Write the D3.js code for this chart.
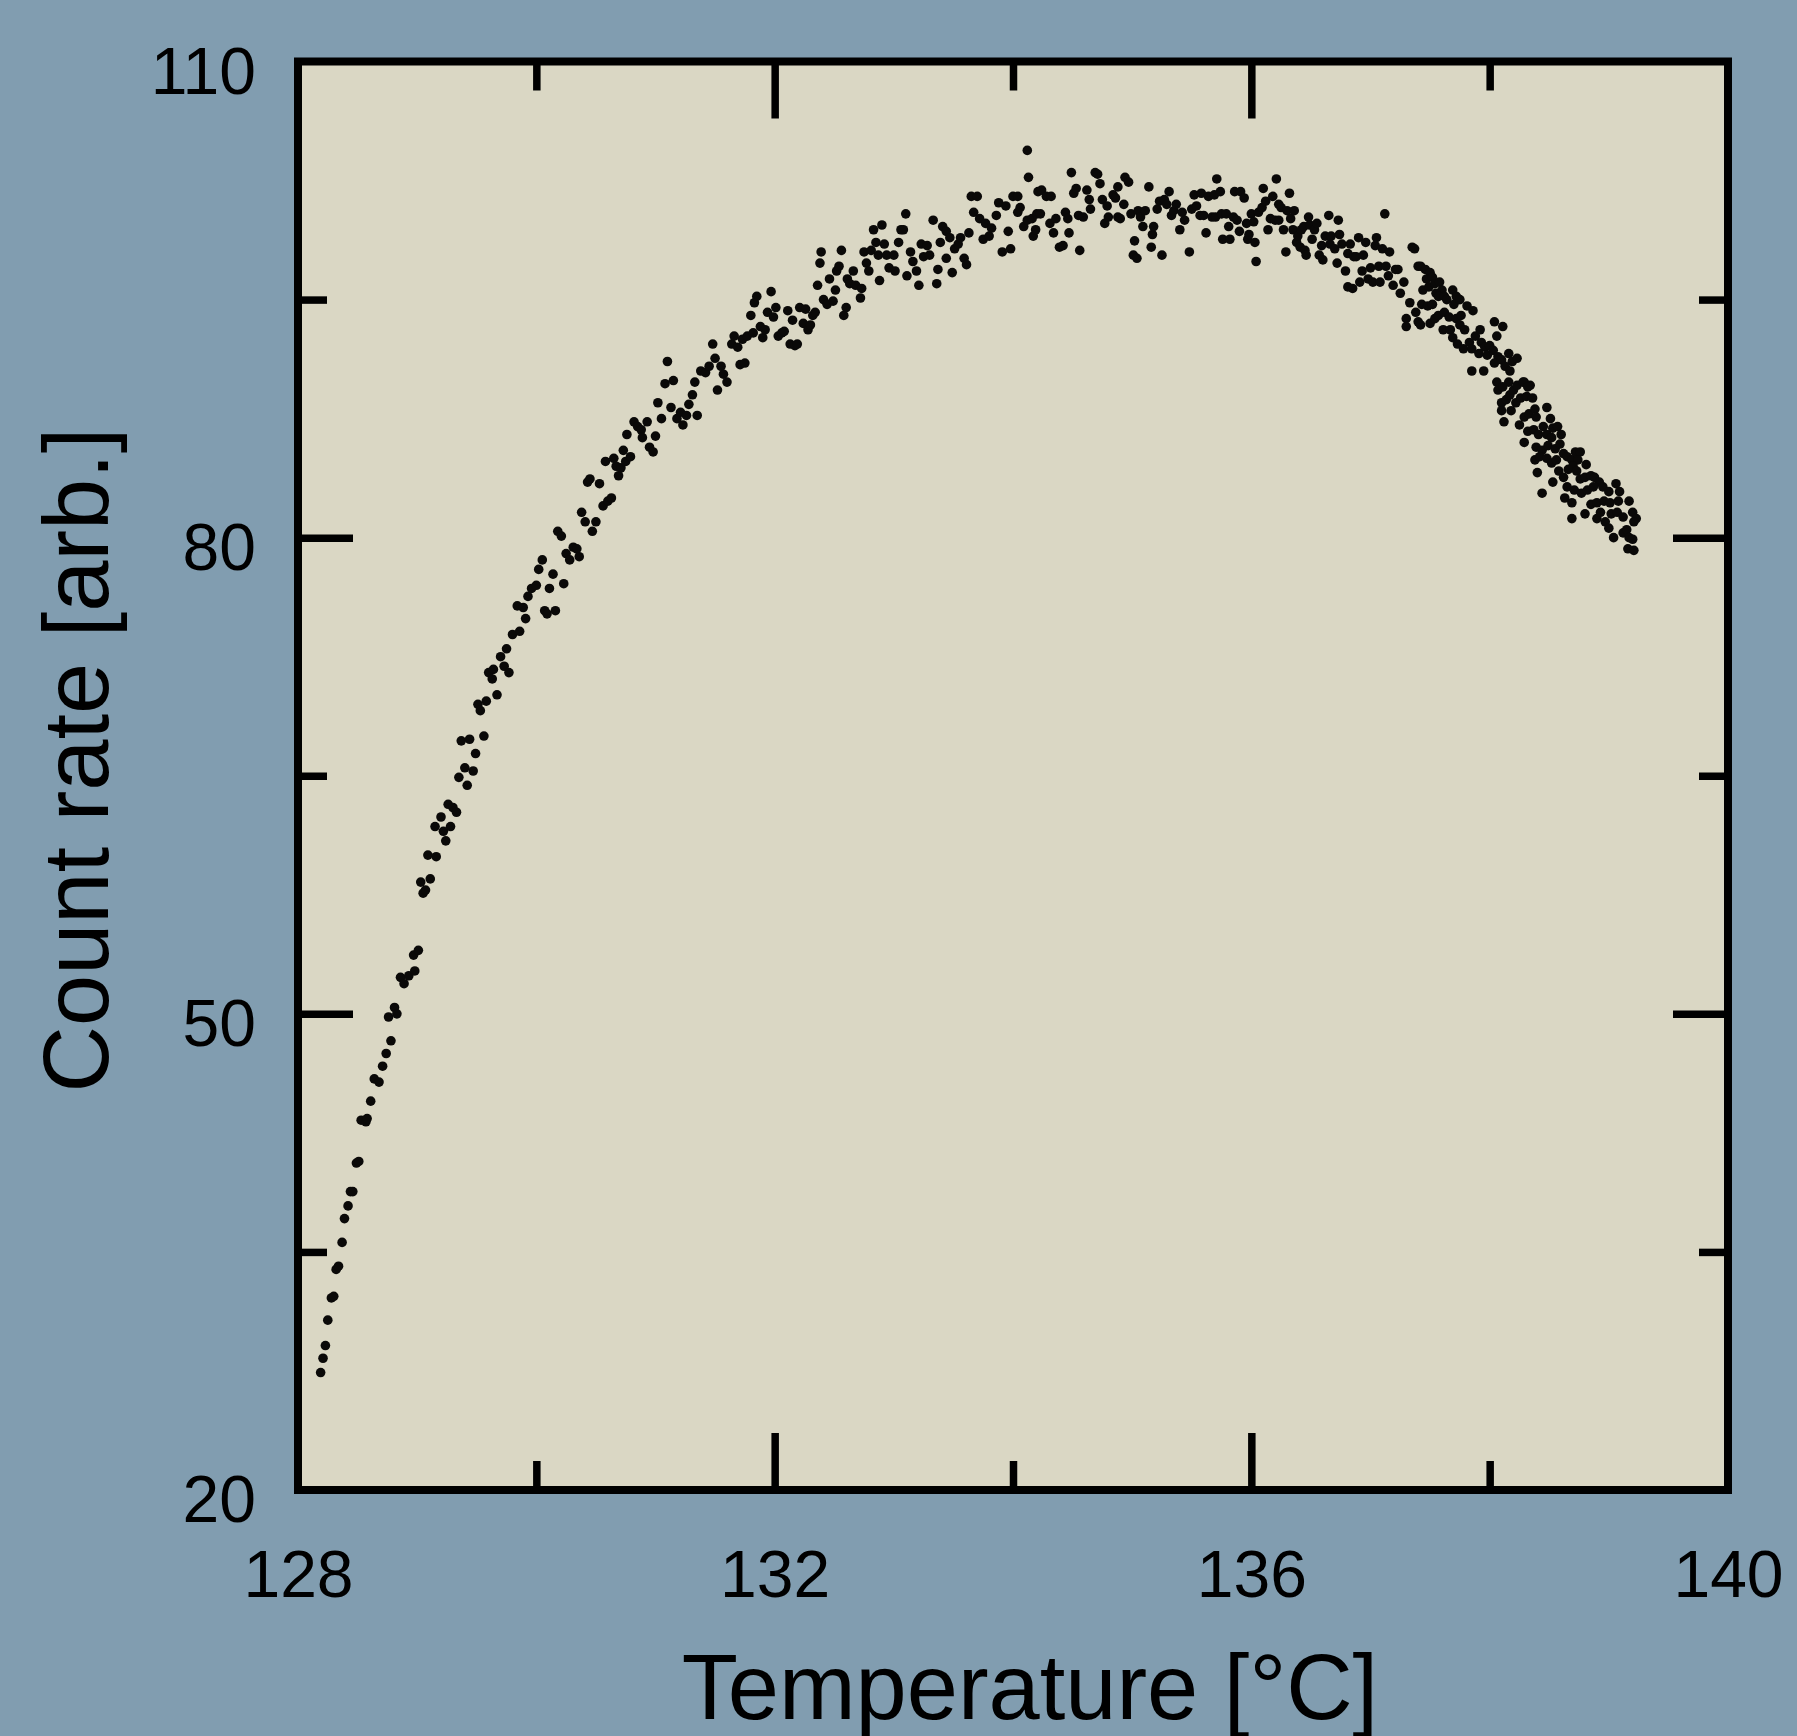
<!DOCTYPE html>
<html>
<head>
<meta charset="utf-8">
<script src="https://cdn.jsdelivr.net/npm/d3@7"></script>
<style>
  html, body { margin: 0; padding: 0; background: #819db0; }
  svg { display: block; }
</style>
</head>
<body>
<div id="chart"></div>
<script>
const rise = [
  [128.19,27.4],[128.21,28.3],[128.23,29.1],[128.25,30.7],[128.28,32.1],[128.30,32.2],[128.32,33.9],[128.34,34.1],
  [128.37,35.6],[128.39,37.1],[128.42,37.9],[128.44,38.8],[128.46,38.8],[128.49,40.6],[128.51,40.7],[128.53,43.3],
  [128.57,43.2],[128.58,43.4],[128.61,44.5],[128.64,45.9],[128.68,45.7],[128.71,46.7],[128.74,47.5],[128.78,48.3],
  [128.76,49.8],[128.81,50.4],[128.83,50.0],[128.86,52.3],[128.89,51.9],[128.93,52.4],[128.98,52.7],[128.97,53.7],
  [129.01,54.0],[129.03,58.3],[129.05,57.6],[129.07,57.8],[129.11,58.5],[129.09,60.0],[129.16,59.9],
  [129.15,61.8],[129.20,62.4],[129.22,61.5],[129.28,61.8],[129.24,60.9],[129.26,63.2],[129.30,63.0],[129.33,62.7],
  [129.35,64.9],[129.40,65.5],[129.42,64.4],[129.47,65.3],[129.37,67.2],[129.44,67.3],[129.49,66.4],[129.56,67.5],
  [129.51,69.5],[129.58,69.7],[129.53,69.1],[129.67,70.1],[129.60,71.5],[129.64,71.7],[129.63,71.1],[129.70,72.5],
  [129.73,71.9],[129.77,71.5],[129.75,73.0],[129.80,73.9],[129.86,74.1],[129.84,75.7],[129.89,75.6],[129.91,74.9],
  [129.93,76.3],[129.96,76.8],[130.00,77.0],[130.02,78.0],[130.05,78.6],[130.07,75.4],[130.09,75.2],[130.16,75.4],
  [130.11,76.8],[130.14,77.7],[130.23,77.1],[130.18,80.4],[130.21,80.1],[130.25,79.0],[130.28,78.6],[130.31,79.4],
  [130.34,79.3],[130.36,78.8],[130.38,81.6],[130.41,81.0],[130.47,80.4],[130.50,81.0],[130.43,83.5],[130.45,83.7],
  [130.53,83.4],[130.56,82.0],[130.60,82.3],[130.63,82.5],[130.58,84.8],[130.65,85.0],[130.67,84.5],[130.69,83.9],
  [130.71,84.4],[130.73,85.5],[130.75,84.8],[130.79,85.1],[130.76,86.5],[130.82,87.3],[130.85,87.0],[130.88,86.8],
  [130.93,87.3],[130.89,86.3],[130.95,85.7],[130.98,85.4],[131.00,86.4],[131.02,88.5],[131.05,87.5],[131.08,89.7],
  [131.10,91.1],[131.15,89.9],[131.13,88.2],[131.18,87.5],[131.21,87.9],[131.23,87.1],[131.26,87.7],[131.28,88.4],
  [131.31,89.0],[131.33,89.8],[131.35,87.7],[131.38,90.5],[131.42,90.4],[131.45,90.8],[131.48,92.2],[131.50,91.3],
  [131.52,89.3]
];

const plateau = [
  [131.55,90.8],[131.57,90.3],[131.60,89.8],[131.64,92.2],[131.66,92.7],[131.69,92.0],[131.71,90.9],[131.75,91.0],
  [131.73,92.5],[131.77,92.7],[131.82,92.9],[131.80,94.0],[131.83,94.8],[131.85,95.2],[131.88,93.3],[131.90,92.6],
  [131.92,93.1],[131.94,94.2],[131.97,95.5],[131.99,93.9],[132.01,94.5],[132.03,92.7],[132.06,92.9],[132.08,93.0],
  [132.11,94.3],[132.13,92.2],[132.15,93.7],[132.17,92.1],[132.19,92.2],[132.21,94.5],[132.24,93.5],[132.26,94.4],
  [132.28,93.1],[132.30,93.4],[132.32,94.0],[132.34,94.2],[132.36,95.9],[132.38,97.3],[132.39,98.0],[132.41,95.0],
  [132.44,94.7],[132.46,96.3],[132.49,94.9],[132.51,95.6],[132.52,96.8],[132.54,97.1],[132.56,98.1],[132.58,94.0],
  [132.60,94.5],[132.61,96.3],[132.63,96.0],[132.66,96.8],[132.68,95.9],[132.72,95.1],[132.73,95.7],[132.75,98.0],
  [132.77,97.3],[132.79,96.8],[132.81,98.1],[132.83,99.4],[132.85,98.6],[132.87,97.8],[132.88,96.2],[132.90,99.7],
  [132.92,98.5],[132.94,97.8],[132.96,97.0],[133.00,97.8],[133.01,96.8],[133.04,98.6],[133.06,99.4],[133.08,99.4],
  [133.10,100.4],[133.11,96.5],[133.14,98.0],[133.16,97.4],[133.19,96.8],[133.21,95.9],[133.23,98.5],[133.25,97.7],
  [133.28,98.4],[133.30,97.8],[133.33,100.0],[133.36,96.0],[133.37,96.9],[133.39,98.6],[133.41,99.6],[133.44,99.3],
  [133.44,97.6],[133.47,98.9],[133.49,96.7],[133.51,98.2],[133.54,98.5],[133.56,98.9],[133.59,97.6],[133.61,97.2],
  [133.63,99.2],[133.65,101.5],[133.70,101.5],[133.67,100.5],[133.72,100.1],[133.75,98.8],[133.77,99.8],[133.80,99.0],
  [133.82,99.5],[133.86,100.3],[133.88,101.1],[133.91,98.0],[133.94,100.9],[133.96,99.3],[133.98,98.2],[134.00,101.5],
  [134.04,101.5],[134.06,100.8],[134.04,100.5],[134.09,99.6],[134.12,100.0],[134.16,100.1],[134.17,99.0],[134.19,99.4],
  [134.20,100.4],[134.21,101.8],[134.12,104.4],[134.13,102.7],
  [134.24,101.9],[134.23,100.4],[134.28,101.5],[134.32,101.5],[134.31,99.8],[134.34,99.2],[134.36,100.1],[134.39,98.3],
  [134.42,98.4],[134.44,100.5],[134.46,100.1],[134.47,99.2],[134.49,103.0],[134.51,101.7],[134.53,102.0],[134.56,98.1],
  [134.55,100.3],[134.59,100.2],[134.62,101.9],[134.64,101.3],[134.65,100.7],[134.69,103.0],[134.71,102.9],[134.73,102.3],
  [134.75,101.3],[134.77,99.8],[134.79,100.9],[134.80,100.2],[134.84,101.6],[134.86,101.4],[134.88,100.2],[134.88,102.1],
  [134.90,100.1],[134.93,101.0],[134.94,102.7],[134.97,102.4],[134.99,100.4],[135.01,97.8],[135.02,98.7],[135.04,97.6],
  [135.05,100.6],[135.07,100.2],[135.09,99.6],[135.11,100.6],[135.14,102.1],[135.16,98.3],[135.17,99.1],[135.18,99.6],
  [135.21,100.7],[135.23,101.2],[135.25,97.8],[135.27,101.3],[135.29,101.0],[135.31,101.8],[135.33,100.3],[135.35,100.6],
  [135.37,101.0],[135.40,99.4],[135.42,100.5],[135.44,100.0],[135.48,98.0],[135.50,100.7],[135.52,101.6],[135.54,100.9],
  [135.57,100.3],[135.58,101.7],[135.60,100.3],[135.62,99.2],[135.64,101.5],[135.67,100.2],[135.69,101.6],[135.71,102.6],
  [135.70,100.2],[135.74,101.8],[135.75,100.4],[135.76,98.8],[135.79,100.4],[135.82,98.8],[135.81,99.6],[135.85,100.2],
  [135.86,101.8],[135.88,100.0],[135.90,99.3],[135.91,101.8],[135.94,101.4],[135.96,99.8],[135.97,98.8],[135.98,99.1]
];

const shoulder = [
  [136.00,100.4],[136.02,99.9],[136.04,97.4],[136.03,98.6],[136.06,100.5],[136.09,100.8],[136.10,102.0],[136.12,101.2],
  [136.14,99.4],[136.16,100.1],[136.18,101.5],[136.21,102.6],[136.20,100.0],[136.23,101.0],[136.23,100.0],[136.25,100.8],
  [136.27,99.4],[136.29,98.0],[136.30,100.6],[136.32,101.7],[136.33,100.1],[136.35,99.4],[136.36,100.6],[136.38,98.6],
  [136.39,99.0],[136.41,98.3],[136.42,99.4],[136.44,99.6],[136.45,98.1],[136.46,97.8],[136.48,100.2],[136.49,99.7],
  [136.51,98.8],[136.53,99.4],[136.55,99.8],[136.57,97.8],[136.59,98.4],[136.60,97.5],[136.62,99.0],[136.65,100.3],
  [136.66,98.5],[136.67,99.0],[136.70,98.2],[136.72,97.3],[136.73,100.0],[136.74,99.1],[136.76,98.5],[136.79,96.8],
  [136.81,97.9],[136.81,95.8],[136.83,98.5],[136.85,95.7],[136.86,97.7],[136.88,97.7],[136.90,98.9],[136.91,96.1],
  [136.93,96.8],[136.94,97.8],[136.96,98.6],[136.98,96.3],[137.00,97.0],[137.02,96.1],[137.04,98.4],[137.05,98.9],
  [137.07,97.1],[137.08,96.1],[137.10,98.2],[137.12,100.4],[137.13,97.1],[137.15,96.5],[137.16,98.0],[137.19,95.9],
  [137.21,96.9],[137.23,96.9],[137.25,95.4],[137.28,96.1],[137.30,93.8],[137.30,93.3],[137.33,94.8],[137.35,98.3],
  [137.37,98.2],[137.38,94.2],[137.40,97.1],
  [137.42,97.1],[137.46,96.9],[137.50,96.7],[137.47,96.3],[137.52,96.4],[137.44,95.6],[137.49,95.8],[137.54,96.0],
  [137.58,96.1],[137.60,95.6],[137.55,95.4],[137.57,95.2],[137.62,95.2],[137.64,95.0],[137.69,95.6],[137.72,95.2],
  [137.70,94.7],[137.75,95.0],[137.43,94.7],[137.48,94.6],[137.52,94.7],[137.40,93.6],[137.42,93.4],[137.50,93.5],
  [137.54,93.8],[137.57,94.0],[137.62,94.2],[137.66,93.9],[137.72,93.8],[137.76,94.0],[137.81,94.6],[137.86,94.3],
  [137.61,93.1],[137.67,93.1],[137.69,92.6],[137.73,92.2],[137.75,93.4],[137.79,93.1],[137.78,91.9],[137.83,92.3],
  [137.85,91.9],[137.88,92.7],[137.92,93.1],[137.93,92.3],[137.96,92.0],[137.91,91.6],[137.98,91.5],[138.00,92.1],
  [138.04,93.6],[138.11,93.3],[138.06,92.7],[138.03,91.8],[138.07,91.4],[138.04,91.0],[137.85,90.5],[137.95,90.5],
  [138.10,91.2],[138.16,91.6],[138.19,91.1],[138.23,91.3],[138.13,90.8],[138.17,90.5],[138.06,89.8],[138.16,89.8],
  [138.29,89.8],[138.34,89.6]
];

const tail = [
  [138.07,89.3],[138.11,89.5],[138.10,88.5],[138.14,88.7],[138.17,89.0],[138.20,89.3],[138.23,89.6],[138.28,89.8],
  [138.32,89.5],[138.10,88.0],[138.18,88.0],[138.22,88.5],[138.26,88.8],[138.31,88.9],[138.36,88.8],[138.12,87.3],
  [138.25,87.1],[138.29,87.6],[138.33,87.8],[138.38,88.1],[138.39,87.6],[138.48,88.2],[138.51,87.5],[138.29,86.0],
  [138.32,86.7],[138.37,86.8],[138.41,86.5],[138.45,87.0],[138.48,86.5],[138.53,86.9],[138.57,87.0],[138.60,86.5],
  [138.52,86.3],[138.39,85.7],[138.44,85.5],[138.49,85.8],[138.55,85.6],[138.59,85.9],[138.62,85.3],[138.38,84.9],
  [138.42,85.1],[138.48,85.0],[138.52,84.7],[138.56,84.9],[138.65,85.1],[138.69,84.9],[138.72,85.4],[138.76,85.4],
  [138.74,84.9],[138.40,84.1],[138.53,83.5],[138.58,84.2],[138.62,83.8],[138.66,84.3],[138.70,84.5],[138.73,84.2],
  [138.81,84.6],[138.76,83.7],[138.80,83.8],[138.85,83.9],[138.88,83.8],[138.92,83.5],[138.65,83.2],[138.71,83.0],
  [138.77,82.8],[138.82,83.0],[138.87,83.2],[138.95,83.2],[139.00,82.9],[139.06,83.4],[138.44,82.8],[138.63,82.5],
  [138.69,82.2],[138.85,82.1],[138.90,82.2],[138.96,82.3],[139.01,82.2],[139.09,82.9],[139.08,82.3],[139.17,82.3],
  [138.80,81.5],[138.90,81.2],[138.97,81.0],[138.93,81.6],[139.02,81.5],[139.07,81.6],[139.12,81.3],[139.20,81.6],
  [139.23,81.2],[139.21,81.0],[138.69,81.2],[139.00,80.6],[139.04,80.0],[139.12,80.3],[139.15,80.5],[139.17,80.0],
  [139.20,79.9],[139.16,79.3],[139.21,79.2]
];

const xLabels = [128, 132, 136, 140];
const xMajor = [132, 136];
const xMinor = [130, 134, 138];
const yLabels = [20, 50, 80, 110];
const yMajor = [50, 80];
const yMinor = [35, 65, 95];

const width = 1797;
const height = 1736;
const margin = { top: 61.5, right: 69, bottom: 246, left: 298 };
const w = width - margin.left - margin.right;
const h = height - margin.top - margin.bottom;
const font = '"Liberation Sans", Arial, sans-serif';

const svg = d3.select("#chart")
    .append("svg")
    .attr("width", width)
    .attr("height", height);

svg.append("rect")
    .attr("width", width)
    .attr("height", height)
    .attr("fill", "#819db0");

const g = svg.append("g")
    .attr("transform", `translate(${margin.left},${margin.top})`);

const x = d3.scaleLinear().domain([128, 140]).range([0, w]);
const y = d3.scaleLinear().domain([20, 110]).range([h, 0]);

// plot area
g.append("rect")
    .attr("width", w)
    .attr("height", h)
    .attr("fill", "#dad7c4");

// scatter
const points = rise.concat(plateau, shoulder, tail);
g.append("g")
    .selectAll("circle")
    .data(points)
    .join("circle")
    .attr("cx", d => x(d[0]))
    .attr("cy", d => y(d[1]))
    .attr("r", 4.8)
    .attr("fill", "#0a0908");

// inward ticks on all four sides
function drawTicks(axis, transform) {
    const t = g.append("g")
        .attr("transform", transform)
        .call(axis.tickFormat(""));
    t.select(".domain").remove();
    t.selectAll(".tick line")
        .attr("stroke", "#000")
        .attr("stroke-width", 7.5);
}

drawTicks(d3.axisBottom(x).tickValues(xMajor).tickSize(-57), `translate(0,${h})`);
drawTicks(d3.axisBottom(x).tickValues(xMinor).tickSize(-29), `translate(0,${h})`);
drawTicks(d3.axisTop(x).tickValues(xMajor).tickSize(-57), "translate(0,0)");
drawTicks(d3.axisTop(x).tickValues(xMinor).tickSize(-29), "translate(0,0)");
drawTicks(d3.axisLeft(y).tickValues(yMajor).tickSize(-55), "translate(0,0)");
drawTicks(d3.axisLeft(y).tickValues(yMinor).tickSize(-29), "translate(0,0)");
drawTicks(d3.axisRight(y).tickValues(yMajor).tickSize(-55), `translate(${w},0)`);
drawTicks(d3.axisRight(y).tickValues(yMinor).tickSize(-29), `translate(${w},0)`);

// tick labels
const xAxis = g.append("g")
    .attr("transform", `translate(0,${h})`)
    .call(d3.axisBottom(x).tickValues(xLabels).tickSize(0).tickPadding(60));
xAxis.select(".domain").remove();

const yAxis = g.append("g")
    .call(d3.axisLeft(y).tickValues(yLabels).tickSize(0).tickPadding(42));
yAxis.select(".domain").remove();
yAxis.selectAll("text").attr("dy", "0.48em");

[xAxis, yAxis].forEach(a => {
    a.attr("font-family", font).attr("font-size", 66);
    a.selectAll("text").attr("fill", "#000");
});

// frame on top of everything inside
g.append("rect")
    .attr("width", w)
    .attr("height", h)
    .attr("fill", "none")
    .attr("stroke", "#000")
    .attr("stroke-width", 8);

// axis titles
svg.append("text")
    .attr("x", 1030)
    .attr("y", 1719)
    .attr("text-anchor", "middle")
    .attr("font-family", font)
    .attr("font-size", 92)
    .attr("fill", "#000")
    .text("Temperature [°C]");

svg.append("text")
    .attr("transform", "translate(108,760) rotate(-90)")
    .attr("text-anchor", "middle")
    .attr("font-family", font)
    .attr("font-size", 92)
    .attr("fill", "#000")
    .text("Count rate [arb.]");
</script>
</body>
</html>
